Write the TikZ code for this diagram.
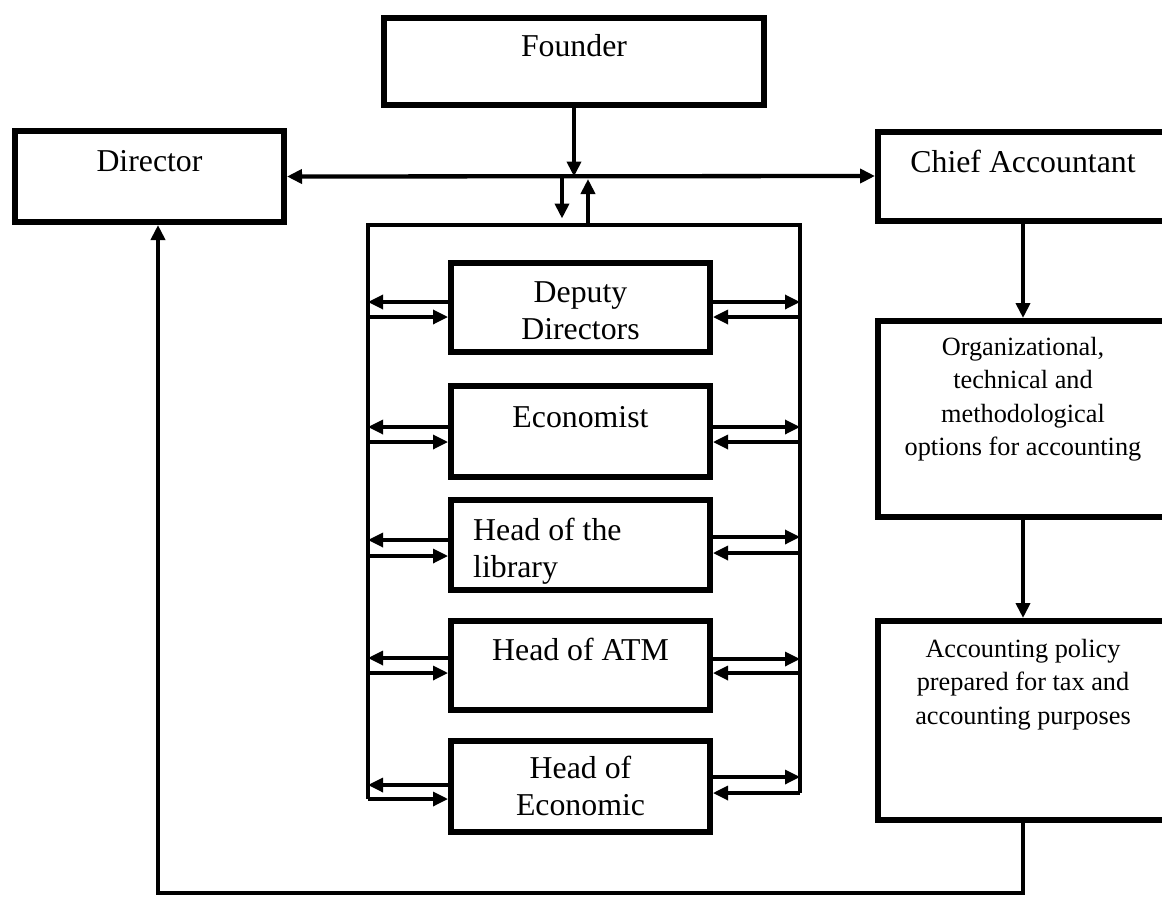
\documentclass[tikz,border=0pt]{standalone}
\usepackage{fontspec}
\setmainfont{Liberation Serif}
\usetikzlibrary{arrows.meta}

\begin{document}
\begin{tikzpicture}[x=1pt, y=-1pt,
    >={Triangle[length=15pt,width=14pt]},
    unit/.style={draw, line width=6pt, minimum width=259pt, minimum height=90pt, inner sep=0pt},
    side/.style={unit, minimum width=290pt},
    txt/.style={anchor=north, inner sep=0pt, align=center, yshift=#1, font=\fontsize{31.8}{37}\selectfont},
    txt/.default=-21pt,
    small/.style={txt=#1, font=\fontsize{26.3}{33.5}\selectfont},
    small/.default=-20pt,
    link/.style={line width=4.3pt},
    sarr/.style={line width=3.3pt, ->}]
    \path[use as bounding box, fill=white] (0,0) rectangle (1162,897);

    % top row
    \node[unit, minimum width=380pt, minimum height=87pt, label={[txt=-19pt]north:Founder}] (fnd) at (574,61.5) {};
    \node[unit, minimum width=269pt, minimum height=91pt, label={[txt=-22pt]north:Director}] (dir) at (149.5,176.5) {};
    \node[side, minimum height=89pt, label={[txt]north:Chief Accountant}] (chf) at (1023,176) {};

    % staff inside the frame
    \node[unit, minimum height=89pt, label={[txt]north:{Deputy\\Directors}}] (dep) at (580.5,307.5) {};
    \node[unit, minimum height=91pt, label={[txt=-23pt]north:Economist}] (eco) at (580.5,431.5) {};
    \node[unit, label={[txt=-21pt, anchor=north west, xshift=25pt, align=left]north west:{Head of the\\library}}] (lib) at (580.5,545) {};
    \node[unit, minimum height=89pt, label={[txt=-20pt]north:Head of ATM}] (atm) at (580.5,665.5) {};
    \node[unit, minimum height=91pt, label={[txt=-18pt]north:{Head of\\Economic}}] (hec) at (580.5,786.5) {};

    % accounting column
    \node[side, minimum height=196pt, label={[small=-19pt]north:{Organizational,\\technical and\\methodological\\options for accounting}}] (org) at (1023,419) {};
    \node[side, minimum height=199pt, label={[small=-21pt]north:{Accounting policy\\prepared for tax and\\accounting purposes}}] (pol) at (1023,720.5) {};

    % frame
    \coordinate (fl) at (368,225);
    \coordinate (fr) at (800,225);
    \draw[line width=4pt] (368,799) -- (fl) -- (fr) -- (800,793);

    \coordinate (hub) at (fnd.south |- dir.east);
    \draw[link, ->] (fnd.south) -- (hub);
    \draw[link, <->] (dir.east) -- (chf.west);
    \draw[link, ->] (hub) ++(-12,0) -- ++(0,42);
    \draw[link, ->] (fl -| hub) ++(14,0) -- ++(0,-46);

    \foreach \b/\p/\q/\r/\s in {dep/5.5/-9.5/5.5/-9.5, eco/4.5/-10.5/4.5/-10.5, lib/5/-11/8/-8, atm/7.5/-7.5/6.5/-7.5, hec/1.5/-12.5/9.5/-6.5} {
        \draw[sarr] ([yshift=\p pt]\b.west) -- ++(-80,0);
        \draw[sarr] ([xshift=-80pt, yshift=\q pt]\b.west) -- ++(80,0);
        \draw[sarr] ([yshift=\r pt]\b.east) -- ++(87,0);
        \draw[sarr] ([xshift=87pt, yshift=\s pt]\b.east) -- ++(-87,0);
    }

    \draw[link, ->] (chf.south) -- (org.north);
    \draw[link, ->] (org.south) -- (pol.north);
    \coordinate (lp) at (158,893);
    \draw[link, ->] (pol.south) |- (lp) -- (lp |- dir.south);
\end{tikzpicture}
\end{document}
